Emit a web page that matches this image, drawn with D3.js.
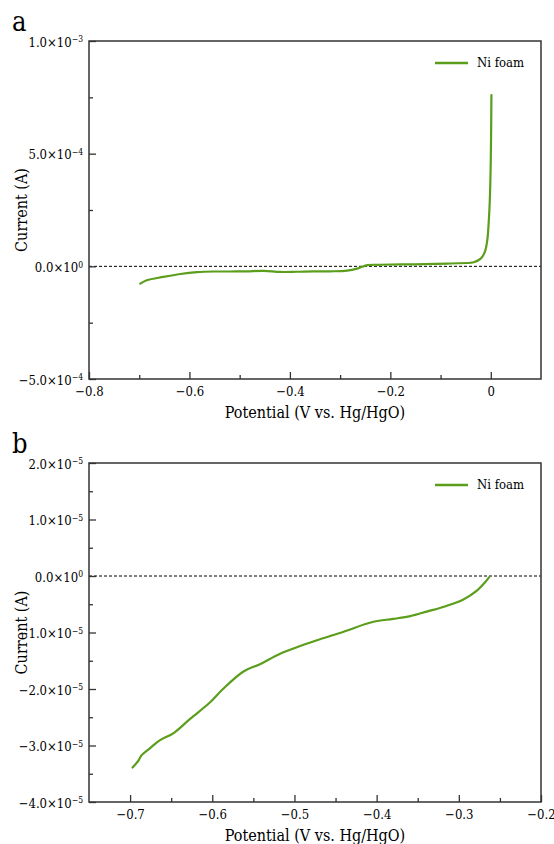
<!DOCTYPE html>
<html>
<head>
<meta charset="utf-8">
<script src="https://cdn.jsdelivr.net/npm/d3@7"></script>
<style>
  html, body { margin: 0; padding: 0; background: #fff; }
  svg { display: block; }
</style>
</head>
<body>
<svg id="chart" width="554" height="844"></svg>
<script>
// ---- Panel a data ----
const aPotential = [-0.698, -0.685, -0.652, -0.618, -0.585, -0.552, -0.519, -0.486, -0.452, -0.419, -0.386, -0.353, -0.319, -0.286, -0.266, -0.246, -0.220, -0.153, -0.087, -0.040, -0.034, -0.020, -0.012, -0.007, -0.004, -0.002, 0.0, 0.0013];
const aCurrent   = [-7.7e-5, -6.2e-5, -4.7e-5, -3.4e-5, -2.6e-5, -2.3e-5, -2.3e-5, -2.2e-5, -2.0e-5, -2.5e-5, -2.4e-5, -2.2e-5, -2.2e-5, -1.9e-5, -1.0e-5, 5e-6, 7e-6, 9e-6, 1.2e-5, 1.6e-5, 1.8e-5, 3.4e-5, 6.3e-5, 1.15e-4, 2.0e-4, 2.9e-4, 4.7e-4, 7.6e-4];
const aXTicks = [-0.8, -0.6, -0.4, -0.2, 0];
const aXMinor = [-0.7, -0.5, -0.3, -0.1];
const aYTicks = [1e-3, 5e-4, 0, -5e-4];
const aYMinor = [7.5e-4, 2.5e-4, -2.5e-4];

// ---- Panel b data ----
const bPotential = [-0.697, -0.690, -0.686, -0.676, -0.664, -0.647, -0.627, -0.603, -0.587, -0.562, -0.542, -0.518, -0.493, -0.469, -0.441, -0.404, -0.380, -0.359, -0.339, -0.315, -0.295, -0.278, -0.268, -0.263];
const bCurrent   = [-3.39e-5, -3.27e-5, -3.17e-5, -3.05e-5, -2.91e-5, -2.78e-5, -2.53e-5, -2.24e-5, -2.0e-5, -1.69e-5, -1.56e-5, -1.38e-5, -1.24e-5, -1.12e-5, -0.99e-5, -0.81e-5, -0.76e-5, -0.71e-5, -0.63e-5, -0.53e-5, -0.42e-5, -0.26e-5, -0.11e-5, -0.02e-5];
const bXTicks = [-0.7, -0.6, -0.5, -0.4, -0.3, -0.2];
const bXMinor = [-0.65, -0.55, -0.45, -0.35, -0.25];
const bYTicks = [2e-5, 1e-5, 0, -1e-5, -2e-5, -3e-5, -4e-5];
const bYMinor = [1.5e-5, 0.5e-5, -0.5e-5, -1.5e-5, -2.5e-5, -3.5e-5];

const seriesName = "Ni foam";
const lineColor = "#5a9e1c";
const axisColor = "#333";
const FONT = "'DejaVu Serif Condensed', 'DejaVu Serif', serif";

const svg = d3.select("#chart");

function sciParts(v) {
  if (v === 0) return { mant: "0.0", exp: "0" };
  const e = Math.floor(Math.log10(Math.abs(v)) + 1e-9);
  const m = v / Math.pow(10, e);
  return { mant: m.toFixed(1).replace("-", "\u2212"), exp: String(e).replace("-", "\u2212") };
}

function drawPanel(cfg) {
  const { left, top, width, height, xDomain, yDomain, xs, ys, xTicks, xMinor, yTicks, yMinor, letter, letterY } = cfg;
  const g = svg.append("g").attr("transform", `translate(${left},${top})`);
  const x = d3.scaleLinear().domain(xDomain).range([0, width]);
  const y = d3.scaleLinear().domain(yDomain).range([height, 0]);

  g.append("line")
    .attr("x1", 0).attr("x2", width)
    .attr("y1", y(0)).attr("y2", y(0))
    .attr("stroke", "#000").attr("stroke-width", 1)
    .attr("stroke-dasharray", "3,2");

  const pts = xs.map((v, i) => [v, ys[i]]);
  g.append("path")
    .datum(pts)
    .attr("fill", "none")
    .attr("stroke", lineColor)
    .attr("stroke-width", 2.2)
    .attr("stroke-linejoin", "round")
    .attr("stroke-linecap", "round")
    .attr("d", d3.line().x(d => x(d[0])).y(d => y(d[1])).curve(d3.curveCatmullRom.alpha(0.5)));

  g.append("g").attr("transform", `translate(0,${height})`)
    .call(d3.axisBottom(x).tickValues(xMinor).tickSize(-4).tickSizeOuter(0).tickFormat(""))
    .call(s => s.select(".domain").remove())
    .call(s => s.selectAll("line").attr("stroke", axisColor).attr("stroke-width", 1.3));
  g.append("g")
    .call(d3.axisLeft(y).tickValues(yMinor).tickSize(-4).tickSizeOuter(0).tickFormat(""))
    .call(s => s.select(".domain").remove())
    .call(s => s.selectAll("line").attr("stroke", axisColor).attr("stroke-width", 1.3));

  g.append("g").attr("transform", `translate(0,${height})`)
    .call(d3.axisBottom(x).tickValues(xTicks).tickSize(-7).tickSizeOuter(0).tickPadding(8)
      .tickFormat(d => (d === 0 ? "0" : d.toFixed(1).replace("-", "\u2212"))))
    .call(s => s.select(".domain").remove())
    .call(s => s.selectAll("line").attr("stroke", axisColor).attr("stroke-width", 1.3))
    .call(s => s.selectAll("text").style("font-family", FONT).attr("font-size", 13).attr("fill", "#000"));

  g.append("g")
    .call(d3.axisLeft(y).tickValues(yTicks).tickSize(-7).tickSizeOuter(0).tickPadding(6).tickFormat(""))
    .call(s => s.select(".domain").remove())
    .call(s => s.selectAll("line").attr("stroke", axisColor).attr("stroke-width", 1.3))
    .call(s => s.selectAll(".tick text").each(function(d) {
      const p = sciParts(d);
      const t = d3.select(this).style("font-family", FONT).attr("font-size", 13).attr("fill", "#000").attr("dy", "0.4em");
      t.text(null);
      t.append("tspan").text(p.mant + "\u00d710");
      t.append("tspan").attr("dy", "-0.5em").attr("font-size", 8.5).text(p.exp);
    }));

  g.append("rect")
    .attr("x", 0).attr("y", 0).attr("width", width).attr("height", height)
    .attr("fill", "none").attr("stroke", axisColor).attr("stroke-width", 1.5);

  g.append("text").style("font-family", FONT)
    .attr("x", width / 2).attr("y", height + 39)
    .attr("text-anchor", "middle").attr("font-size", 16)
    .text("Potential (V vs. Hg/HgO)");
  g.append("text").style("font-family", FONT)
    .attr("transform", `translate(${-62},${height / 2}) rotate(-90)`)
    .attr("text-anchor", "middle").attr("font-size", 16)
    .text("Current (A)");

  g.append("line")
    .attr("x1", 435 - left).attr("x2", 468 - left)
    .attr("y1", 22).attr("y2", 22)
    .attr("stroke", lineColor).attr("stroke-width", 2.5);
  g.append("text").style("font-family", FONT)
    .attr("x", 477 - left).attr("y", 22).attr("dy", "0.33em")
    .attr("font-size", 13)
    .text(seriesName);

  svg.append("text").style("font-family", FONT)
    .attr("x", 12).attr("y", letterY)
    .attr("font-size", 27)
    .text(letter);
}

drawPanel({
  left: 89, top: 41, width: 452, height: 338,
  xDomain: [-0.8, 0.1], yDomain: [-5e-4, 1e-3],
  xs: aPotential, ys: aCurrent,
  xTicks: aXTicks, xMinor: aXMinor, yTicks: aYTicks, yMinor: aYMinor,
  letter: "a", letterY: 31
});

drawPanel({
  left: 89, top: 463, width: 452, height: 339,
  xDomain: [-0.75, -0.2], yDomain: [-4e-5, 2e-5],
  xs: bPotential, ys: bCurrent,
  xTicks: bXTicks, xMinor: bXMinor, yTicks: bYTicks, yMinor: bYMinor,
  letter: "b", letterY: 453
});
</script>
</body>
</html>
